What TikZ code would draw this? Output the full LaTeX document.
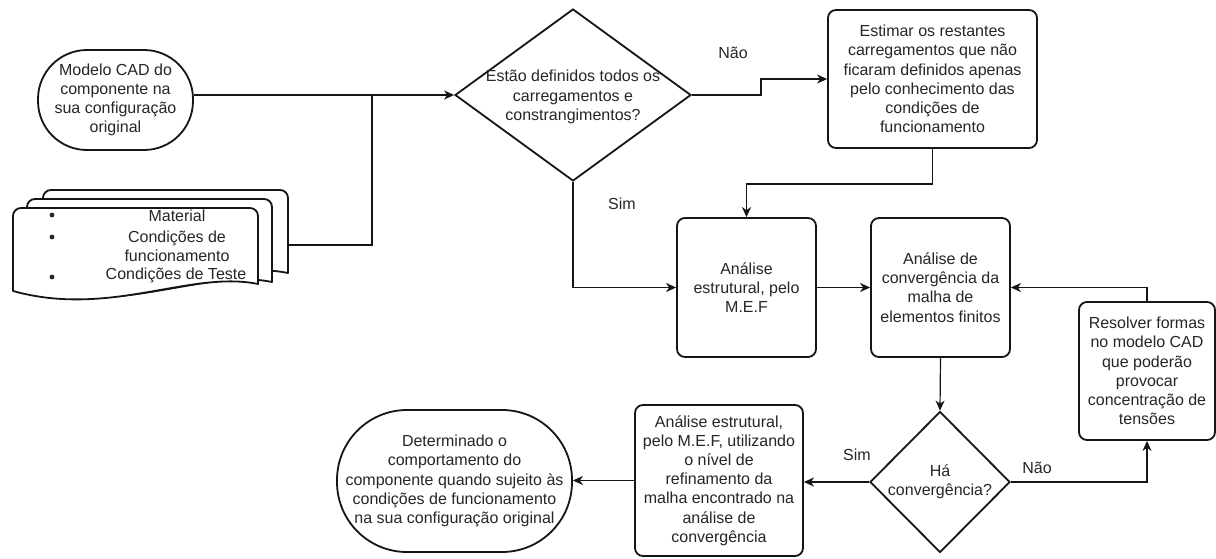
\documentclass[tikz,border=0pt]{standalone}
\usepackage{fontspec}
\setmainfont{Liberation Sans}
\usetikzlibrary{arrows.meta,shapes.geometric,calc}
\definecolor{ink}{HTML}{151515}
\definecolor{txt}{HTML}{262626}
\begin{document}
\begin{tikzpicture}[x=1pt,y=-1pt,
  font=\fontsize{16}{19.2}\selectfont,
  shapeborder/.style={draw=ink, line width=1.8pt, fill=white},
  box/.style={shapeborder, rectangle, rounded corners=8pt, inner sep=0pt, text=txt, align=center},
  term/.style={shapeborder, rectangle, inner sep=0pt, text=txt, align=center},
  dia/.style={shapeborder, diamond, inner sep=0pt},
  lbl/.style={text=txt, align=center, inner sep=0pt},
  page/.style={shapeborder, line join=round},
  conn/.style={draw=ink, line width=1.2pt},
  arr/.style={conn, -{Stealth[length=10pt,width=9pt,inset=3pt]}},
]
\useasboundingbox (0,0) rectangle (1216,558);

% ---------- multi-document (back to front) ----------
\draw[page] (43,280) [rounded corners=8pt] -- (43,190) -- (288,190) -- (288,250) [sharp corners] -- (288,273)
  .. controls (220,259) and (140,307) .. (43,280) -- cycle;
\draw[page] (27,289) [rounded corners=8pt] -- (27,199) -- (272,199) -- (272,260) [sharp corners] -- (272,282)
  .. controls (204,268) and (124,316) .. (27,289) -- cycle;
\draw[page] (13,291) [rounded corners=8pt] -- (13,208) -- (258,208) -- (258,262) [sharp corners] -- (258,284)
  .. controls (190,270) and (110,318) .. (13,291) -- cycle;
\foreach \n/\y in {b1/215,b2/237,b3/277}{
  \fill[txt] (52,\y) circle (2.4pt) coordinate (\n);
}
\node[lbl] (dmat) at (177,216) {Material};
\node[lbl] (dcond) at (177,246.5) {Condições de\\funcionamento};
\node[lbl] (dteste) at (176,275.5) {Condições de Teste};
\coordinate (docR) at (288,245);
\coordinate (j) at (372,95);

% ---------- nodes ----------
\node[term, rounded corners=49pt, minimum width=155pt, minimum height=100pt] (t1) at (115.5,100)
  {Modelo CAD do\\componente na\\sua configuração\\original};

\node[dia, minimum width=236pt, minimum height=172pt] (d1) at (573,95) {};
\node[lbl] (d1t) at (573,97) {Estão definidos todos os\\carregamentos e\\constrangimentos?};

\node[box, minimum width=209pt, minimum height=138pt] (est) at (932.5,79)
  {Estimar os restantes\\carregamentos que não\\ficaram definidos apenas\\pelo conhecimento das\\condições de\\funcionamento};

\node[box, minimum width=139pt, minimum height=139pt] (b2) at (746.5,287.5)
  {Análise\\estrutural, pelo\\M.E.F};

\node[box, minimum width=139pt, minimum height=139pt] (b3) at (940.5,287.5)
  {Análise de\\convergência da\\malha de\\elementos finitos};

\node[box, minimum width=136pt, minimum height=138pt] (b4) at (1147,371)
  {Resolver formas\\no modelo CAD\\que poderão\\provocar\\concentração de\\tensões};

\node[dia, minimum width=140pt, minimum height=141pt] (d2) at (940,482) {};
\node[lbl] (d2t) at (940,482) {Há\\convergência?};

\node[box, minimum width=168pt, minimum height=151pt] (b5) at (719,480.5)
  {Análise estrutural,\\pelo M.E.F, utilizando\\o nível de\\refinamento da\\malha encontrado na\\análise de\\convergência};

\node[term, rounded corners=70pt, minimum width=235pt, minimum height=142pt] (t2) at (454.5,481)
  {Determinado o\\comportamento do\\componente quando sujeito às\\condições de funcionamento\\na sua configuração original};

% ---------- labels ----------
\node[lbl] (lnao1) at (733,53) {Não};
\node[lbl] (lsim1) at (622,204) {Sim};
\node[lbl] (lsim2) at (857,455) {Sim};
\node[lbl] (lnao2) at (1037,468) {Não};

% ---------- connectors ----------
\draw[arr] (t1.east |- d1.west) -- (d1.west);
\draw[conn] (docR) -| (j);
\draw[arr] (d1.east) -- ++(69,0) |- (est.west);
\draw[arr] (est.south) -- ++(0,35) -| (b2.north);
\draw[arr] (d1.south) |- (b2.west);
\draw[arr] (b2.east) -- (b3.west);
\draw[arr] (b3.south) -- (d2.north);
\draw[arr] (d2.east) -| (b4.south);
\draw[arr] (b4.north) |- (b3.east);
\draw[arr] (d2.west) -- (d2.west -| b5.east);
\draw[arr] (b5.west) -- (b5.west -| t2.east);
\end{tikzpicture}
\end{document}
